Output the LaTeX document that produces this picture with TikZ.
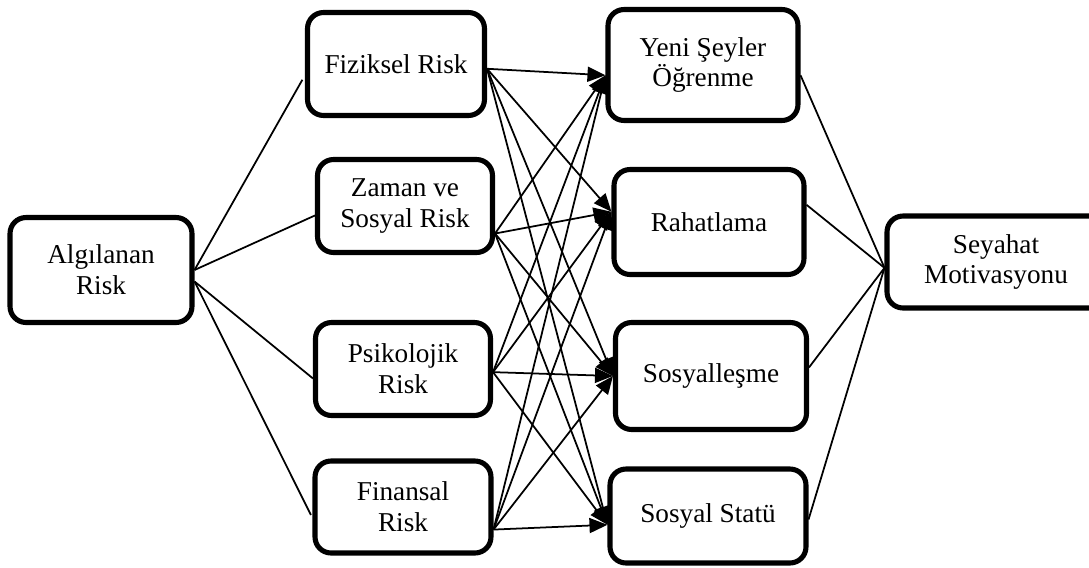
\documentclass[tikz,border=0pt]{standalone}
\usepackage{fontspec}
\setmainfont{Liberation Serif}
\usetikzlibrary{arrows.meta}
\tikzstyle{blok} = [draw=black, line width=2.9pt, rounded corners=0.32cm, align=center, inner sep=2pt, font=\fontsize{15.5}{17.5}\selectfont]
\tikzstyle{hat} = [line width=1pt]
\tikzstyle{ok} = [line width=1pt, -{Triangle[length=0.36cm, width=0.3cm]}]

\begin{document}
\begin{tikzpicture}[x=0.02cm, y=-0.02cm]
\useasboundingbox (0,0) rectangle (1089,568);
% algilanan risk
\node [blok, minimum width=3.64cm, minimum height=2.1cm] (alg) at (101,270) {Algılanan\\Risk};
% risk boyutlari
\node [blok, minimum width=3.54cm, minimum height=2.06cm] (fiz) at (396,64) {Fiziksel Risk};
\node [blok, minimum width=3.5cm, minimum height=1.86cm] (zam) at (405,206) {Zaman ve\\Sosyal Risk};
\node [blok, minimum width=3.5cm, minimum height=1.86cm] (psi) at (403,369) {Psikolojik\\Risk};
\node [blok, minimum width=3.52cm, minimum height=1.84cm] (fin) at (403,507) {Finansal\\Risk};
% motivasyonlar
\node [blok, minimum width=3.8cm, minimum height=2.22cm] (yen) at (703,65) {Yeni Şeyler\\Öğrenme};
\node [blok, minimum width=3.8cm, minimum height=2.1cm] (rah) at (709,222) {Rahatlama};
\node [blok, minimum width=3.82cm, minimum height=2.14cm] (sos) at (711,376) {Sosyalleşme};
\node [blok, minimum width=3.92cm, minimum height=1.88cm] (sta) at (708,516) {Sosyal Statü};
\node [blok, minimum width=4.36cm, minimum height=1.84cm] (sey) at (996,262) {Seyahat\\Motivasyonu};
% baglantilar
\draw[hat, shorten >=3pt] (alg.east) -- (fiz.187);
\draw[hat] (alg.east) -- (zam.186);
\draw[hat] (alg.-7) -- (psi.186);
\draw[hat, shorten >=2pt] (alg.-7) -- (fin.187);
\foreach \a/\ao in {fiz/-3, zam/-17, psi/-2, fin/-14}
  \foreach \b/\bi in {yen/186, rah/174, sos/180, sta/185}
    \draw[ok] (\a.\ao) -- (\b.\bi);
\foreach \b/\bo in {yen/-6, rah/10, sos/5, sta/-2}
  \draw[hat] (\b.\bo) -- (sey.183);
\end{tikzpicture}
\end{document}
